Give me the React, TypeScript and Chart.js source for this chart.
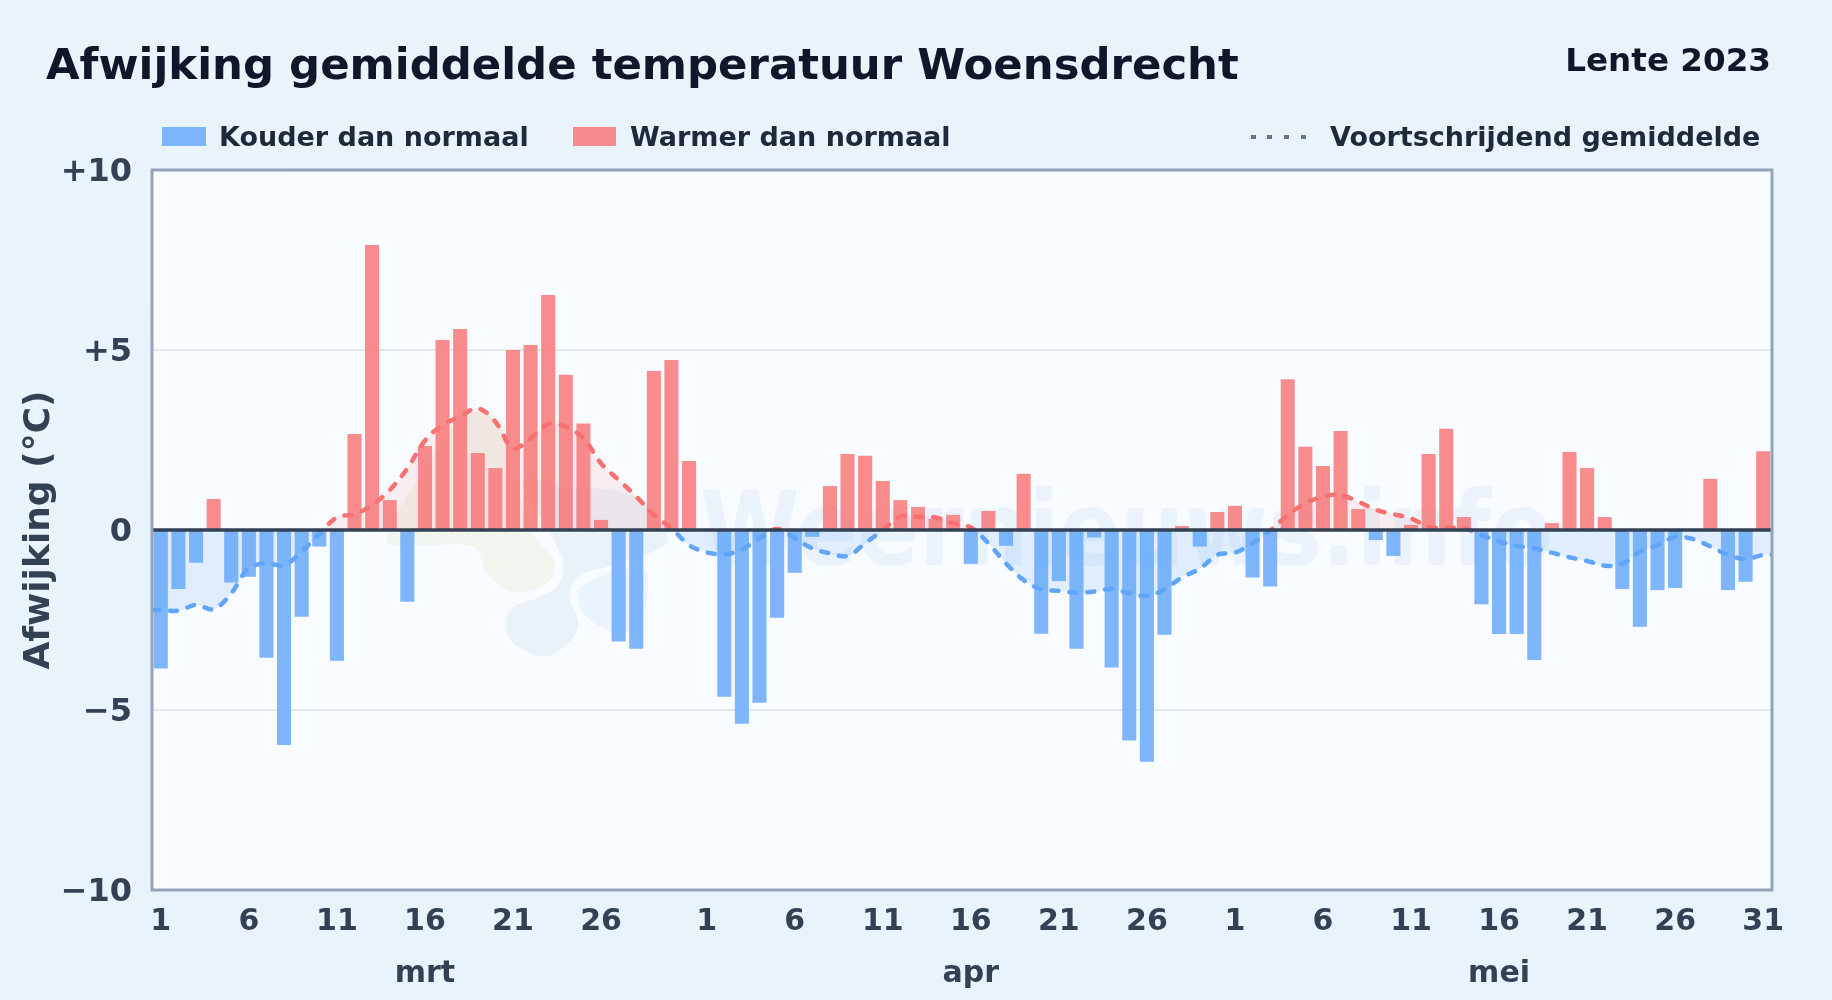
import React, { useEffect, useRef } from "react";
import { Chart, registerables } from "chart.js";

Chart.register(...registerables);

const FONT = "'DejaVu Sans', sans-serif";

const titleText = "Afwijking gemiddelde temperatuur Woensdrecht";
const seasonText = "Lente 2023";
const coldLabel = "Kouder dan normaal";
const warmLabel = "Warmer dan normaal";
const avgLabel = "Voortschrijdend gemiddelde";
const yTitle = "Afwijking (°C)";
const watermarkText = "Weernieuws.info";

const deviations = [
  -3.85, -1.64, -0.91, 0.86, -1.46, -1.3, -3.55, -5.97, -2.41, -0.46, -3.63, 2.67, 7.92, 0.83, -1.99, 2.33,
  5.28, 5.58, 2.14, 1.72, 5.0, 5.14, 6.53, 4.31, 2.96, 0.28, -3.1, -3.3, 4.42, 4.72, 1.92,
  0, -4.63, -5.38, -4.8, -2.44, -1.19, -0.19, 1.22, 2.11, 2.06, 1.36, 0.83, 0.64, 0.31, 0.42,
  -0.94, 0.53, -0.44, 1.56, -2.88, -1.42, -3.3, -0.21, -3.82, -5.85, -6.44, -2.91, 0.11, -0.46, 0.5,
  0.67, -1.32, -1.57, 4.19, 2.31, 1.78, 2.75, 0.58, -0.28, -0.72, 0.14, 2.11, 2.81, 0.36, -2.06,
  -2.89, -2.89, -3.61, 0.19, 2.17, 1.72, 0.36, -1.64, -2.69, -1.67, -1.61, 0, 1.42, -1.67, -1.44, 2.19,
];

const movingAverage = [
  -2.22, -2.24, -2.08, -2.2, -1.76, -1.06, -0.93, -0.98, -0.6, -0.11, 0.35, 0.44, 0.69, 1.11, 1.71, 2.48,
  2.92, 3.15, 3.38, 3.01, 2.27, 2.55, 2.94, 2.87, 2.55, 1.85, 1.39, 0.93, 0.42, 0.05, -0.42,
  -0.62, -0.68, -0.54, -0.23, 0.03, -0.23, -0.51, -0.65, -0.72, -0.37, 0, 0.37, 0.37, 0.35, 0.19,
  0.07, -0.37, -0.93, -1.39, -1.65, -1.69, -1.74, -1.71, -1.64, -1.76, -1.83, -1.65, -1.31, -1.08, -0.69,
  -0.63, -0.37, -0.02, 0.42, 0.74, 0.93, 0.97, 0.79, 0.56, 0.44, 0.32, 0.09, 0.06, 0.05, -0.14,
  -0.32, -0.44, -0.51, -0.63, -0.76, -0.86, -0.99, -0.94, -0.6, -0.42, -0.2, -0.25, -0.46, -0.69, -0.81, -0.69,
];

const dayTicks = [
  "1", "", "", "", "", "6", "", "", "", "", "11", "", "", "", "", "16", "", "", "", "", "21", "", "", "", "", "26", "", "", "", "", "",
  "1", "", "", "", "", "6", "", "", "", "", "11", "", "", "", "", "16", "", "", "", "", "21", "", "", "", "", "26", "", "", "", "",
  "1", "", "", "", "", "6", "", "", "", "", "11", "", "", "", "", "16", "", "", "", "", "21", "", "", "", "", "26", "", "", "", "", "31",
];

const monthTicks = dayTicks.map((_, i) => (i === 15 ? "mrt" : i === 46 ? "apr" : i === 76 ? "mei" : ""));
const categories = dayTicks.map((_, i) => String(i));
const yTickLabels: Record<string, string> = { "10": "+10", "5": "+5", "0": "0", "-5": "−5", "-10": "−10" };

const logoOrange = [[20,420],[100,260],[250,50],[370,70],[400,220],[460,400],[522,480],[500,550],[400,575],[320,520],[280,440],[130,435]];
const logoSlate = [[430,240],[560,260],[700,270],[800,310],[860,400],[840,445],[700,495],[600,525],[570,590],[595,680],[540,750],[480,768],[400,730],[378,670],[400,620],[470,595],[530,560],[550,490],[510,400]];
const logoSky = [[600,565],[660,530],[790,505],[800,600],[760,690],[680,690],[610,640],[595,590]];

function blob(ctx: CanvasRenderingContext2D, pts: number[][], fill: string) {
  const P = pts.map(([x, y]) => [380 + x / 3, 400 + y / 3]);
  const n = P.length;
  ctx.beginPath();
  ctx.moveTo(P[0][0], P[0][1]);
  for (let i = 0; i < n; i++) {
    const p0 = P[(i + n - 1) % n], p1 = P[i], p2 = P[(i + 1) % n], p3 = P[(i + 2) % n];
    ctx.bezierCurveTo(
      p1[0] + (p2[0] - p0[0]) / 6, p1[1] + (p2[1] - p0[1]) / 6,
      p2[0] - (p3[0] - p1[0]) / 6, p2[1] - (p3[1] - p1[1]) / 6,
      p2[0], p2[1]
    );
  }
  ctx.closePath();
  ctx.fillStyle = fill;
  ctx.fill();
}

const plotDecor = {
  id: "plotDecor",
  beforeDatasetsDraw(chart: any) {
    const { ctx, chartArea: a } = chart;
    ctx.save();
    ctx.fillStyle = "#f8fbff";
    ctx.fillRect(a.left, a.top, a.right - a.left, a.bottom - a.top);
    blob(ctx, logoOrange, "rgba(200,215,140,0.16)");
    blob(ctx, logoSlate, "#e9f1f9");
    blob(ctx, logoSky, "#e9f4fe");
    ctx.font = `bold 104px ${FONT}`;
    ctx.textAlign = "left";
    ctx.textBaseline = "alphabetic";
    ctx.fillStyle = "rgba(100,155,225,0.09)";
    ctx.fillText(watermarkText, 700, 565, 853);
    const y = chart.scales.y;
    ctx.strokeStyle = "#e2e8f0";
    ctx.lineWidth = 2;
    [5, -5].forEach((v) => {
      const py = y.getPixelForValue(v);
      ctx.beginPath();
      ctx.moveTo(a.left, py);
      ctx.lineTo(a.right, py);
      ctx.stroke();
    });
    ctx.restore();
  },
  afterDatasetsDraw(chart: any) {
    const { ctx, chartArea: a } = chart;
    const zero = chart.scales.y.getPixelForValue(0);
    ctx.save();
    ctx.strokeStyle = "#334155";
    ctx.lineWidth = 3.5;
    ctx.beginPath();
    ctx.moveTo(a.left, zero);
    ctx.lineTo(a.right, zero);
    ctx.stroke();
    ctx.strokeStyle = "#94a3b8";
    ctx.lineWidth = 3;
    ctx.strokeRect(a.left, a.top, a.right - a.left, a.bottom - a.top);
    ctx.restore();
  },
};

function signGradient(c: any) {
  const { chart } = c;
  const { chartArea, scales, ctx } = chart;
  if (!chartArea) return "#60a5fa";
  const g = ctx.createLinearGradient(0, chartArea.top, 0, chartArea.bottom);
  const f = (scales.y.getPixelForValue(0) - chartArea.top) / (chartArea.bottom - chartArea.top);
  g.addColorStop(0, "#f87171");
  g.addColorStop(f, "#f87171");
  g.addColorStop(f, "#60a5fa");
  g.addColorStop(1, "#60a5fa");
  return g;
}

const pageStyle: React.CSSProperties = {
  position: "relative",
  width: 1832,
  height: 1000,
  overflow: "hidden",
  background: "linear-gradient(135deg, #eaf4fd 0%, #e8f3fc 40%, #e8f3fc 100%)",
  fontFamily: FONT,
  fontWeight: 700,
};

function Label(props: { left?: number; right?: number; cy: number; size: number; color: string; text: string }) {
  const { left, right, cy, size, color, text } = props;
  return (
    <div
      style={{
        position: "absolute",
        left,
        right,
        top: cy,
        transform: "translateY(-50%)",
        fontSize: size,
        color,
        lineHeight: 1,
        whiteSpace: "nowrap",
      }}
    >
      {text}
    </div>
  );
}

function Swatch(props: { left: number; width: number; color: string }) {
  return (
    <div style={{ position: "absolute", left: props.left, top: 127, width: props.width, height: 19, background: props.color }} />
  );
}

export default function App() {
  const ref = useRef<HTMLCanvasElement>(null);
  useEffect(() => {
    document.body.style.margin = "0";
    const chart = new Chart(ref.current as HTMLCanvasElement, {
      type: "bar",
      data: {
        labels: categories,
        datasets: [
          {
            type: "line",
            label: avgLabel,
            xAxisID: "xLine",
            data: [
              { x: -0.5, y: movingAverage[0] },
              ...movingAverage.map((y, x) => ({ x, y })),
              { x: 91.5, y: movingAverage[91] },
            ],
            borderColor: signGradient,
            borderWidth: 4.5,
            borderDash: [7, 11],
            borderCapStyle: "round",
            tension: 0.35,
            pointRadius: 0,
            fill: { target: { value: 0 }, above: "rgba(248,113,113,0.1)", below: "rgba(96,165,250,0.16)" },
            order: 0,
          } as any,
          {
            label: coldLabel,
            data: deviations.map((v) => (v < 0 ? v : null)),
            backgroundColor: "rgba(96,165,250,0.8)",
            order: 1,
          },
          {
            label: warmLabel,
            data: deviations.map((v) => (v > 0 ? v : null)),
            backgroundColor: "rgba(248,113,113,0.8)",
            order: 1,
          },
        ],
      },
      options: {
        responsive: false,
        animation: false,
        devicePixelRatio: 1,
        layout: { padding: { top: 170, right: 60, left: 0, bottom: 0 } },
        datasets: { bar: { grouped: false, barPercentage: 0.8, categoryPercentage: 1 } },
        plugins: { legend: { display: false }, title: { display: false }, tooltip: { enabled: false } },
        scales: {
          x: {
            type: "category",
            position: "bottom",
            offset: true,
            grid: { display: false, drawTicks: false },
            border: { display: false },
            ticks: {
              autoSkip: false,
              maxRotation: 0,
              minRotation: 0,
              padding: 14,
              color: "#334155",
              font: { family: FONT, size: 30, weight: "bold" },
              callback: (_v: any, i: number) => dayTicks[i],
            },
            afterFit: (s: any) => { s.height = 52; s.paddingLeft = 0; s.paddingRight = 0; },
          },
          xMonth: {
            type: "category",
            position: "bottom",
            offset: true,
            labels: monthTicks,
            grid: { display: false, drawTicks: false },
            border: { display: false },
            ticks: {
              autoSkip: false,
              maxRotation: 0,
              minRotation: 0,
              padding: 14,
              color: "#334155",
              font: { family: FONT, size: 30, weight: "bold" },
              callback: (_v: any, i: number) => monthTicks[i],
            },
            afterFit: (s: any) => { s.height = 58; s.paddingLeft = 0; s.paddingRight = 0; },
          },
          xLine: { type: "linear", display: false, offset: false, min: -0.5, max: 91.5 },
          y: {
            min: -10,
            max: 10,
            grid: { display: false, drawTicks: false },
            border: { display: false },
            afterBuildTicks: (s: any) => {
              s.ticks = [-10, -5, 0, 5, 10].map((value) => ({ value }));
            },
            ticks: {
              padding: 20,
              labelOffset: 3,
              color: "#334155",
              font: { family: FONT, size: 32, weight: "bold" },
              callback: (v: any) => yTickLabels[String(v)],
            },
            title: {
              display: true,
              text: yTitle,
              color: "#334155",
              font: { family: FONT, size: 36, weight: "bold" },
              padding: { top: 18, bottom: 0 },
            },
            afterFit: (s: any) => { s.width = 152; },
          },
        },
      } as any,
      plugins: [plotDecor],
    });
    return () => chart.destroy();
  }, []);

  return (
    <div style={pageStyle}>
      <canvas ref={ref} width={1832} height={1000} style={{ position: "absolute", left: 0, top: 0, width: 1832, height: 1000 }} />
      <Label left={46} cy={65} size={43.4} color="#0f172a" text={titleText} />
      <Label right={61} cy={60} size={32.6} color="#0f172a" text={seasonText} />
      <Swatch left={162} width={44} color="rgba(96,165,250,0.8)" />
      <Label left={219} cy={136} size={27} color="#1e293b" text={coldLabel} />
      <Swatch left={573} width={43} color="rgba(248,113,113,0.8)" />
      <Label left={630} cy={136} size={27} color="#1e293b" text={warmLabel} />
      {[1251, 1267, 1284, 1301].map((left) => (
        <div key={left} style={{ position: "absolute", left, top: 135, width: 5, height: 4, background: "#64748b" }} />
      ))}
      <Label left={1330} cy={136} size={27} color="#1e293b" text={avgLabel} />
    </div>
  );
}
